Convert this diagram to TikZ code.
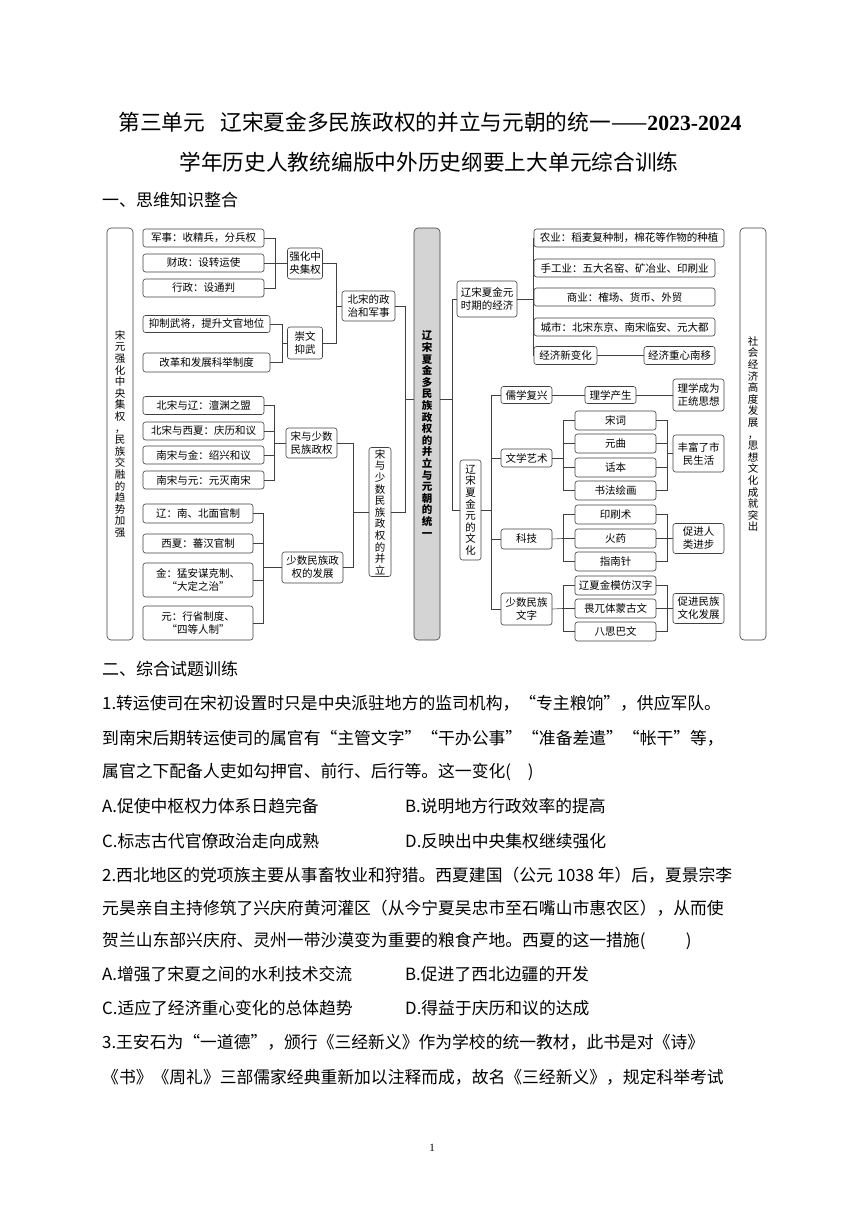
\documentclass[tikz,border=0pt]{standalone}
\usepackage{fontspec}
\setmainfont{Noto Sans CJK SC}
\newfontfamily\serifnum{Liberation Serif}
\XeTeXlinebreaklocale "zh"
\XeTeXlinebreakskip=0pt plus 2pt minus 0.4pt
\newcommand\boxfont{\fontsize{10.5}{13}\selectfont}
\newcommand\vfont{\fontsize{10.5}{11.6}\selectfont}
\newcommand\qfont{\fontsize{16.8}{20}\selectfont}
\newcommand\headfont{\fontsize{17}{20}\selectfont}
\newcommand\titlefont{\fontsize{21.7}{26}\selectfont}

\begin{document}
\begin{tikzpicture}[x=1pt, y=-1pt,
  box/.style={draw=black!75, rounded corners=2.5pt, line width=0.6pt, inner sep=0pt, align=center, font=\boxfont},
  sz/.style 2 args={minimum width=#1pt, minimum height=#2pt},
  tall/.style={box, rounded corners=4pt, minimum width=26pt, minimum height=412pt, font=\vfont},
  link/.style={draw=black!75, line width=0.6pt},
  qline/.style={anchor=west, inner sep=0pt, font=\qfont},
  qfull/.style={qline, text width=650pt, align=justify}]

    \fill[white] (0,0) rectangle (860,1216);
    \useasboundingbox (0,0) rectangle (860,1216);

    % titre
    \node[font=\titlefont] (title1) at (430,122) {第三单元\hspace{0.7em}辽宋夏金多民族政权的并立与元朝的统一——{\serifnum\bfseries 2023-2024}};
    \node[font=\titlefont] (title2) at (429,162) {学年历史人教统编版中外历史纲要上大单元综合训练};
    \node[anchor=west, inner sep=0pt, font=\headfont] (sec1) at (102,200) {一、思维知识整合};

    % grands cadres
    \node[tall] (lt) at (120,434) {宋\\元\\强\\化\\中\\央\\集\\权\\，\\民\\族\\交\\融\\的\\趋\\势\\加\\强};
    \node[tall, fill=black!17, font=\vfont\bfseries] (ct) at (427,434) {辽\\宋\\夏\\金\\多\\民\\族\\政\\权\\的\\并\\立\\与\\元\\朝\\的\\统\\一};
    \node[tall] (rt) at (753,434) {社\\会\\经\\济\\高\\度\\发\\展\\，\\思\\想\\文\\化\\成\\就\\突\\出};

    % partie gauche : Song
    \node[box, sz={121}{18}] (js) at (203.5,238) {军事：收精兵，分兵权};
    \node[box, sz={121}{18}] (cz) at (203.5,263) {财政：设转运使};
    \node[box, sz={121}{18}] (xz) at (203.5,288) {行政：设通判};
    \node[box, sz={35}{31}] (qh) at (305,263.5) {强化中\\央集权};
    \node[box, sz={127}{17}] (yz) at (206.5,324) {抑制武将，提升文官地位};
    \node[box, sz={127}{19}] (gg) at (206.5,362.5) {改革和发展科举制度};
    \node[box, sz={35}{32}] (cw) at (305,343) {崇文\\抑武};
    \node[box, sz={53}{30}] (bsz) at (368.5,306) {北宋的政\\治和军事};

    \node[box, sz={121}{18}] (bl) at (203.5,405.5) {北宋与辽：澶渊之盟};
    \node[box, sz={121}{18}] (bx) at (203.5,431) {北宋与西夏：庆历和议};
    \node[box, sz={121}{18}] (nj) at (203.5,455) {南宋与金：绍兴和议};
    \node[box, sz={121}{18}] (ny) at (203.5,480) {南宋与元：元灭南宋};
    \node[box, sz={51}{30}] (ss) at (311.5,443) {宋与少数\\民族政权};

    \node[box, sz={110}{19}] (gl) at (198,513.5) {辽：南、北面官制};
    \node[box, sz={110}{19}] (gx) at (198,543.5) {西夏：蕃汉官制};
    \node[box, sz={110}{34}] (gj) at (198,580) {金：猛安谋克制、\\“大定之治”};
    \node[box, sz={110}{34}] (gy) at (198,623) {元：行省制度、\\“四等人制”};
    \node[box, sz={61}{31}] (sf) at (312.5,567.5) {少数民族政\\权的发展};
    \node[box, sz={22}{129}, font=\vfont] (bl2) at (380,512) {宋\\与\\少\\数\\民\\族\\政\\权\\的\\并\\立};

    \coordinate (k1) at (275,263.5);
    \draw[link] (js.east) -| (k1) -- (qh.west);
    \draw[link] (cz.east) -| (k1);
    \draw[link] (xz.east) -| (k1);
    \coordinate (k2) at (282,343);
    \draw[link] (yz.east) -| (k2) -- (cw.west);
    \draw[link] (gg.east) -| (k2);
    \coordinate (k3) at (336,306);
    \draw[link] (qh.east) -| (k3) -- (bsz.west);
    \draw[link] (cw.east) -| (k3);

    \coordinate (k4) at (274,443);
    \foreach \n in {bl,bx,nj,ny} \draw[link] (\n.east) -| (k4);
    \draw[link] (k4) -- (ss.west);
    \coordinate (k5) at (263,567.5);
    \foreach \n in {gl,gx,gj,gy} \draw[link] (\n.east) -| (k5);
    \draw[link] (k5) -- (sf.west);
    \coordinate (k6) at (353,512);
    \draw[link] (ss.east) -| (k6) -- (bl2.west);
    \draw[link] (sf.east) -| (k6);
    \coordinate (k7) at (405,399);
    \draw[link] (bsz.east) -| (k7) -- (ct.west |- k7);
    \draw[link] (bl2.east) -| (k7);

    % partie droite : economie
    \node[box, sz={60}{36}] (jj) at (487,299) {辽宋夏金元\\时期的经济};
    \node[box, sz={190}{18}] (nye) at (629,238) {农业：稻麦复种制，棉花等作物的种植};
    \node[box, sz={181}{18}] (sg) at (624.5,268) {手工业：五大名窑、矿冶业、印刷业};
    \node[box, sz={181}{18}] (sy) at (624.5,297) {商业：榷场、货币、外贸};
    \node[box, sz={181}{18}] (cs) at (624.5,327) {城市：北宋东京、南宋临安、元大都};
    \node[box, sz={63}{18}] (xb) at (565.5,355.5) {经济新变化};
    \node[box, sz={71}{18}] (zx) at (679.5,355.5) {经济重心南移};

    \coordinate (k8) at (452,399);
    \draw[link] (ct.east |- k8) -- (k8);
    \draw[link] (k8) |- (jj.west);
    \coordinate (k9) at (533,299);
    \draw[link] (jj.east) -- (k9);
    \foreach \n in {nye,sg,sy,cs,xb} \draw[link] (k9) |- (\n.west);
    \draw[link] (xb) -- (zx);

    % partie droite : culture
    \node[box, sz={21}{100}, font=\vfont] (wh) at (470.5,510) {辽\\宋\\夏\\金\\元\\的\\文\\化};
    \node[box, sz={51}{17}] (rx) at (526.5,395) {儒学复兴};
    \node[box, sz={51}{18}] (wx) at (526.5,458) {文学艺术};
    \node[box, sz={51}{20}] (kj) at (526.5,539) {科技};
    \node[box, sz={51}{32}] (sz) at (526.5,609) {少数民族\\文字};
    \node[box, sz={51}{17}] (lx) at (610.5,395) {理学产生};
    \node[box, sz={51}{32}] (lc) at (698.5,395) {理学成为\\正统思想};

    \node[box, sz={81}{19}] (sc) at (615.5,420.5) {宋词};
    \node[box, sz={81}{19}] (yq) at (615.5,443.5) {元曲};
    \node[box, sz={81}{19}] (hb) at (615.5,467.5) {话本};
    \node[box, sz={81}{19}] (sh) at (615.5,490.5) {书法绘画};
    \node[box, sz={51}{37}] (fs) at (698.5,453.5) {丰富了市\\民生活};

    \node[box, sz={81}{19}] (ys) at (615.5,514.5) {印刷术};
    \node[box, sz={81}{19}] (hy) at (615.5,538.5) {火药};
    \node[box, sz={81}{19}] (zn) at (615.5,561.5) {指南针};
    \node[box, sz={51}{30}] (cj) at (698.5,538.5) {促进人\\类进步};

    \node[box, sz={81}{19}] (lm) at (615.5,585.5) {辽夏金模仿汉字};
    \node[box, sz={81}{19}] (ww) at (615.5,608.5) {畏兀体蒙古文};
    \node[box, sz={81}{19}] (bs) at (615.5,631.5) {八思巴文};
    \node[box, sz={51}{30}] (cm) at (698.5,608.5) {促进民族\\文化发展};

    \draw[link] (k8) |- (wh.west);
    \coordinate (k10) at (491,510);
    \draw[link] (wh.east) -- (k10);
    \foreach \n in {rx,wx,kj,sz} \draw[link] (k10) |- (\n.west);
    \draw[link] (rx) -- (lx);
    \draw[link] (lx) -- (lc);

    \coordinate (k11) at (563,458);
    \draw[link] (wx.east) -- (k11);
    \foreach \n in {sc,yq,hb,sh} \draw[link] (k11) |- (\n.west);
    \coordinate (k12) at (667,453.5);
    \foreach \n in {sc,yq,hb,sh} \draw[link] (\n.east) -| (k12);
    \draw[link] (k12) -- (fs.west);

    \coordinate (k13) at (563,538.5);
    \draw[link] (kj.east) -- (k13);
    \foreach \n in {ys,hy,zn} \draw[link] (k13) |- (\n.west);
    \coordinate (k14) at (667,538.5);
    \foreach \n in {ys,hy,zn} \draw[link] (\n.east) -| (k14);
    \draw[link] (k14) -- (cj.west);

    \coordinate (k15) at (563,608.5);
    \draw[link] (sz.east) -- (k15);
    \foreach \n in {lm,ww,bs} \draw[link] (k15) |- (\n.west);
    \coordinate (k16) at (667,608.5);
    \foreach \n in {lm,ww,bs} \draw[link] (\n.east) -| (k16);
    \draw[link] (k16) -- (cm.west);

    % exercices
    \node[anchor=west, inner sep=0pt, font=\headfont] (sec2) at (102,669) {二、综合试题训练};
    \node[qfull] (q1a) at (102,703) {\parfillskip=0pt 1.转运使司在宋初设置时只是中央派驻地方的监司机构，“专主粮饷”，供应军队。};
    \node[qfull] (q1b) at (102,738) {\parfillskip=0pt 到南宋后期转运使司的属官有“主管文字”“干办公事”“准备差遣”“帐干”等，};
    \node[qline] (q1c) at (102,772) {属官之下配备人吏如勾押官、前行、后行等。这一变化(\hspace{1em})};
    \node[qline] (q1A) at (102,806) {A.促使中枢权力体系日趋完备};
    \node[qline] (q1B) at (405,806) {B.说明地方行政效率的提高};
    \node[qline] (q1C) at (102,841) {C.标志古代官僚政治走向成熟};
    \node[qline] (q1D) at (405,841) {D.反映出中央集权继续强化};

    \node[qfull] (q2a) at (102,875) {\parfillskip=0pt 2.西北地区的党项族主要从事畜牧业和狩猎。西夏建国（公元 1038 年）后，夏景宗李};
    \node[qfull] (q2b) at (102,908) {\parfillskip=0pt 元昊亲自主持修筑了兴庆府黄河灌区（从今宁夏吴忠市至石嘴山市惠农区），从而使};
    \node[qline] (q2c) at (102,941) {贺兰山东部兴庆府、灵州一带沙漠变为重要的粮食产地。西夏的这一措施(\hspace{2.4em})};
    \node[qline] (q2A) at (102,974) {A.增强了宋夏之间的水利技术交流};
    \node[qline] (q2B) at (405,974) {B.促进了西北边疆的开发};
    \node[qline] (q2C) at (102,1008) {C.适应了经济重心变化的总体趋势};
    \node[qline] (q2D) at (405,1008) {D.得益于庆历和议的达成};

    \node[qfull] (q3a) at (102,1042) {\parfillskip=0pt 3.王安石为“一道德”，颁行《三经新义》作为学校的统一教材，此书是对《诗》};
    \node[qfull] (q3b) at (102,1077) {\parfillskip=0pt 《书》《周礼》三部儒家经典重新加以注释而成，故名《三经新义》，规定科举考试};

    \node[font=\serifnum\fontsize{11}{13}\selectfont] (pg) at (432,1148) {1};
\end{tikzpicture}
\end{document}
